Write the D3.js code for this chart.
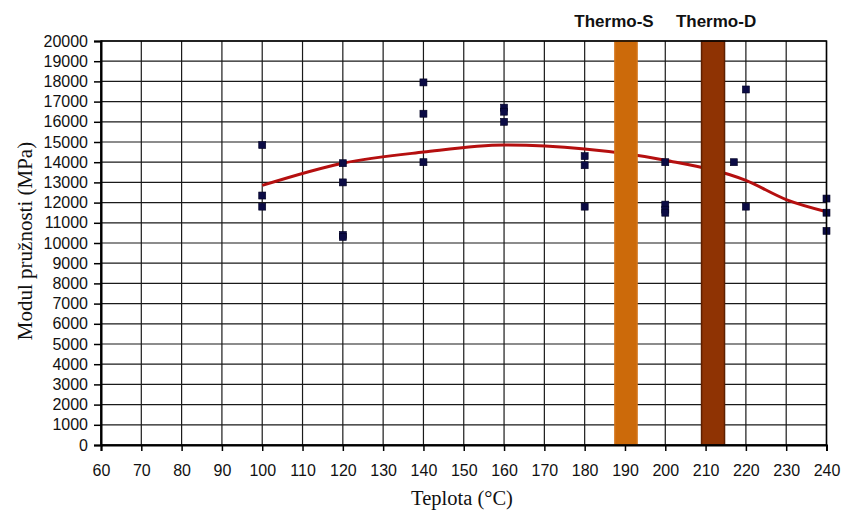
<!DOCTYPE html>
<html>
<head>
<meta charset="utf-8">
<script src="https://cdn.jsdelivr.net/npm/d3@7"></script>
<style>
  body { margin: 0; background: #fff; }
  svg { display: block; }
</style>
</head>
<body>
<div class="chart"></div>
<script>
"use strict";

// measured points (temperature, modulus)
const pointTemps = [100, 100, 100, 120, 120, 120, 120, 140, 140, 140, 160, 160, 160,
                    180, 180, 180, 200, 200, 200, 200, 217, 220, 220, 240, 240, 240];
const pointValues = [14850, 12350, 11800, 13950, 13000, 10400, 10300, 17950, 16400, 14000, 16700, 16500, 16000,
                     14300, 13850, 11800, 14000, 11900, 11650, 11500, 14000, 17600, 11800, 12200, 11500, 10600];

// trend line
const trendTemps = [100, 120, 140, 160, 180, 200, 220, 230, 240];
const trendValues = [12850, 13950, 14500, 14850, 14650, 14100, 13100, 12150, 11550];

// treatment bands
const bandNames = ["Thermo-S", "Thermo-D"];
const bandFrom = [187.5, 209];
const bandTo = [193, 214.7];

const xTicks = d3.range(60, 241, 10);
const yTicks = d3.range(0, 20001, 1000);

const W = 844, H = 515;
const margin = { top: 41, right: 17.5, bottom: 70, left: 101 };
const font = "'Liberation Sans', Arial, sans-serif";
const serif = "'Liberation Serif', 'Times New Roman', serif";

const svg = d3.select(".chart").append("svg")
    .attr("width", W)
    .attr("height", H);

const x = d3.scaleLinear().domain([60, 240]).range([margin.left, W - margin.right]);
const y = d3.scaleLinear().domain([0, 20000]).range([H - margin.bottom, margin.top]);

// grid
const grid = svg.append("g").attr("stroke", "#1a1a1a").attr("stroke-width", 1.2);
grid.selectAll("line.v").data(xTicks).enter().append("line")
    .attr("x1", d => x(d)).attr("x2", d => x(d))
    .attr("y1", y(0)).attr("y2", y(20000));
grid.selectAll("line.h").data(yTicks).enter().append("line")
    .attr("x1", x(60)).attr("x2", x(240))
    .attr("y1", d => y(d)).attr("y2", d => y(d));

// trend line
const line = d3.line()
    .x((d, i) => x(trendTemps[i]))
    .y(d => y(d))
    .curve(d3.curveMonotoneX);
svg.append("path")
    .attr("fill", "none")
    .attr("stroke", "#b50f0f")
    .attr("stroke-width", 3)
    .attr("d", line(trendValues));

// points
svg.append("g").selectAll("rect").data(pointValues).enter().append("rect")
    .attr("x", (d, i) => x(pointTemps[i]) - 3.5)
    .attr("y", d => y(d) - 3.5)
    .attr("width", 7)
    .attr("height", 7)
    .attr("fill", "#0b0b45")
    .attr("stroke", "#000020")
    .attr("stroke-width", 0.6);

// bands
const bandFill = ["#cc6a0a", "#8f3303"];
const bandStroke = ["#d4751a", "#5e2000"];
bandNames.forEach((name, i) => {
    svg.append("rect")
        .attr("x", x(bandFrom[i]))
        .attr("y", y(20000))
        .attr("width", x(bandTo[i]) - x(bandFrom[i]))
        .attr("height", y(0) - y(20000))
        .attr("fill", bandFill[i])
        .attr("stroke", bandStroke[i])
        .attr("stroke-width", 1.5);
    svg.append("text")
        .attr("x", x((bandFrom[i] + bandTo[i]) / 2) - (i === 0 ? 12 : -3))
        .attr("y", 27)
        .attr("text-anchor", "middle")
        .attr("font-family", font)
        .attr("font-weight", "bold")
        .attr("font-size", 17)
        .attr("fill", "#111")
        .text(name);
});

// axes
const xAxis = svg.append("g")
    .attr("transform", `translate(0,${y(0)})`)
    .call(d3.axisBottom(x).tickValues(xTicks).tickSize(6).tickPadding(14).tickFormat(d3.format("d")));
const yAxis = svg.append("g")
    .attr("transform", `translate(${x(60)},0)`)
    .call(d3.axisLeft(y).tickValues(yTicks).tickSize(7).tickPadding(6).tickFormat(d3.format("d")));
[xAxis, yAxis].forEach(ax => {
    ax.select(".domain").attr("stroke", "#000").attr("stroke-width", 2);
    ax.selectAll(".tick line").attr("stroke", "#000").attr("stroke-width", 1.5);
    ax.selectAll("text").attr("font-family", font).attr("font-size", 16).attr("fill", "#111");
});

// frame top/right
svg.append("rect")
    .attr("x", x(60)).attr("y", y(20000))
    .attr("width", x(240) - x(60)).attr("height", y(0) - y(20000))
    .attr("fill", "none").attr("stroke", "#000").attr("stroke-width", 1.5);

// axis titles
svg.append("text")
    .attr("x", 462)
    .attr("y", 505)
    .attr("text-anchor", "middle")
    .attr("font-family", serif)
    .attr("font-size", 20.5)
    .attr("fill", "#111")
    .text("Teplota (°C)");

svg.append("text")
    .attr("transform", `translate(32,241) rotate(-90)`)
    .attr("text-anchor", "middle")
    .attr("font-family", serif)
    .attr("font-size", 21)
    .attr("fill", "#111")
    .text("Modul pružnosti (MPa)");
</script>
</body>
</html>
